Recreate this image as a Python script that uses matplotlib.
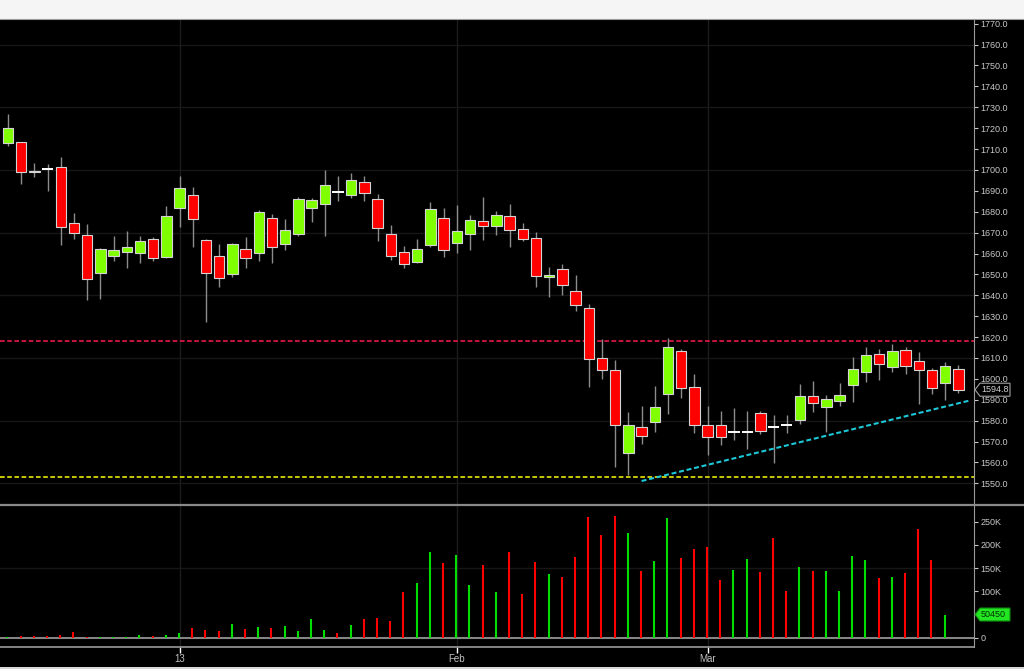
import numpy as np
import matplotlib
matplotlib.use('Agg')
import matplotlib.pyplot as plt
from matplotlib.patches import Rectangle, Polygon
from matplotlib.lines import Line2D
from matplotlib.transforms import IdentityTransform

W, H = 1024, 669

# daily OHLC
opens = [1712.9, 1713.4, 1699.6, 1700.4, 1701.4, 1674.7, 1668.9, 1650.8, 1658.9, 1660.6,
         1660.2, 1667.0, 1658.3, 1681.6, 1688.0, 1666.3, 1658.8, 1650.2, 1662.2, 1660.2,
         1676.8, 1664.7, 1669.5, 1681.6, 1683.7, 1689.3, 1688.1, 1694.4, 1686.2, 1669.2,
         1660.6, 1655.8, 1663.9, 1676.8, 1665.0, 1669.2, 1675.4, 1673.3, 1677.9, 1671.6,
         1667.6, 1648.6, 1652.4, 1642.2, 1633.8, 1609.8, 1604.2, 1564.6, 1576.8, 1579.3,
         1592.7, 1613.5, 1595.9, 1578.0, 1577.8, 1574.4, 1574.5, 1583.8, 1576.9, 1578.0,
         1580.1, 1591.9, 1586.4, 1589.4, 1596.9, 1603.4, 1611.7, 1605.7, 1613.8, 1608.7,
         1604.2, 1598.1, 1604.6]
highs = [1726.8, 1713.6, 1703.5, 1702.8, 1706.0, 1679.2, 1674.0, 1662.6, 1668.4, 1670.8,
         1668.4, 1667.9, 1682.7, 1697.1, 1691.8, 1666.8, 1664.5, 1664.9, 1667.7, 1680.8,
         1678.9, 1676.7, 1686.9, 1686.7, 1700.0, 1697.1, 1698.4, 1697.1, 1688.3, 1673.6,
         1663.6, 1666.9, 1684.8, 1681.9, 1683.1, 1678.6, 1687.0, 1680.2, 1683.7, 1674.4,
         1670.1, 1653.5, 1655.1, 1649.7, 1635.8, 1618.9, 1609.0, 1584.3, 1586.8, 1596.6,
         1619.4, 1614.3, 1602.5, 1586.8, 1584.5, 1585.9, 1584.5, 1584.7, 1582.8, 1582.5,
         1597.7, 1598.8, 1592.1, 1598.1, 1610.3, 1615.2, 1614.1, 1616.7, 1615.1, 1612.8,
         1605.0, 1608.1, 1606.6]
lows = [1711.5, 1693.1, 1696.5, 1689.9, 1664.2, 1666.8, 1637.7, 1638.4, 1656.4, 1652.9,
        1655.3, 1656.4, 1658.0, 1672.8, 1663.3, 1627.3, 1644.1, 1648.6, 1653.1, 1656.4,
        1655.3, 1661.7, 1668.2, 1675.2, 1668.2, 1685.3, 1686.7, 1685.0, 1666.1, 1656.9,
        1653.1, 1655.3, 1663.1, 1658.3, 1660.4, 1661.5, 1666.6, 1668.7, 1663.1, 1665.8,
        1643.8, 1639.3, 1640.1, 1632.5, 1596.2, 1599.9, 1557.6, 1554.0, 1568.9, 1574.5,
        1583.3, 1591.0, 1574.1, 1563.7, 1568.5, 1570.7, 1566.3, 1573.7, 1559.8, 1573.9,
        1578.5, 1584.0, 1574.7, 1586.8, 1589.1, 1598.6, 1599.3, 1603.4, 1602.2, 1588.1,
        1592.9, 1590.0, 1593.4]
closes = [1719.9, 1699.0, 1699.0, 1700.4, 1672.8, 1669.7, 1647.9, 1662.1, 1661.8, 1663.1,
          1665.8, 1658.0, 1678.1, 1691.2, 1676.5, 1650.5, 1648.1, 1664.4, 1657.7, 1680.0,
          1663.0, 1671.4, 1686.2, 1685.5, 1692.9, 1689.3, 1695.0, 1688.8, 1672.1, 1658.7,
          1655.1, 1662.3, 1681.3, 1661.7, 1670.6, 1676.2, 1673.3, 1678.6, 1671.1, 1666.9,
          1649.1, 1649.6, 1645.1, 1635.2, 1609.5, 1604.1, 1577.8, 1578.0, 1572.6, 1586.4,
          1615.4, 1595.6, 1577.9, 1572.0, 1572.3, 1574.4, 1574.5, 1574.9, 1576.9, 1578.0,
          1591.6, 1588.3, 1590.5, 1592.4, 1604.6, 1611.3, 1607.1, 1613.5, 1606.0, 1604.2,
          1595.6, 1606.1, 1594.8]

# volume in thousands, 1 = green bar, 0 = red bar
volume_k = [2, 4, 5, 4, 6.5, 12, 2, 2, 2, 2,
            7, 4, 6, 11, 21, 17, 14, 30, 19, 24,
            22, 26, 16, 41, 17, 11, 29, 41, 42, 37,
            99, 118, 185, 161, 179, 114, 156, 99, 185, 94.5,
            163, 138, 131, 175, 260, 221, 262, 226, 144, 165,
            257, 173, 191, 195, 124, 147, 170, 142, 215, 102,
            152, 144, 145, 100, 177, 167, 129, 131, 140, 235,
            167, 50.45]
volume_up = [1, 0, 0, 0, 0, 0, 0, 1, 1, 1,
             1, 0, 1, 1, 0, 0, 0, 1, 0, 1,
             0, 1, 1, 1, 1, 0, 1, 0, 0, 0,
             0, 1, 1, 0, 1, 1, 0, 1, 0, 0,
             0, 1, 0, 0, 0, 0, 0, 1, 0, 1,
             1, 0, 0, 0, 0, 1, 1, 0, 0, 0,
             1, 0, 1, 1, 1, 1, 0, 1, 0, 0,
             0, 1]

date_ticks = [13, 34, 53]
date_labels = ['13', 'Feb', 'Mar']
price_ticks = list(range(1550, 1771, 10))
grid_prices = [1550, 1580, 1610, 1640, 1670, 1700, 1730, 1760]
vol_ticks = [0, 100, 150, 200, 250]
vol_grid = [150]

resistance = 1618.0
support = 1553.2
trend_x = [48.0, 72.9]
trend_y = [1551.1, 1589.7]
last_price = 1594.8
last_volume = 50450


def px(x0, y0, x1, y1):
    # pixel box, origin top-left -> figure fraction rect
    return [x0 / W, 1 - y1 / H, (x1 - x0) / W, (y1 - y0) / H]


fig = plt.figure(figsize=(W / 100, H / 100), dpi=100, facecolor='black')
plt.rcParams['font.family'] = ['Liberation Sans', 'DejaVu Sans']

ax = fig.add_axes(px(0, 19, 974, 504))
axv = fig.add_axes(px(0, 506, 974, 646.7), sharex=ax)

for a in (ax, axv):
    a.set_facecolor('black')
    for s in ('left', 'top', 'bottom'):
        a.spines[s].set_visible(False)
    a.spines['right'].set_color('#9a9a9a')
    a.yaxis.tick_right()
    a.tick_params(axis='y', colors='#c8c8c8', length=3, width=0.8, pad=1.5, labelsize=6.5)
    for xt in date_ticks:
        a.axvline(xt, color='#1c1c1c', lw=1, zorder=0)

ax.set_xlim(-0.606, 73.18)
ax.set_ylim(1540.1, 1772.25)
axv.set_ylim(-18.7, 283.7)

# price grid
for g in grid_prices:
    ax.axhline(g, color='#171717', lw=1, zorder=0)

o, h, l, c = map(np.array, (opens, highs, lows, closes))
x = np.arange(len(o))
up, dn, flat = c > o, c < o, c == o

ax.vlines(x, l, h, color='#8c8c8c', lw=1.0, zorder=2)
ax.bar(x[up], c[up] - o[up], bottom=o[up], width=0.78, color='#80ff00',
       edgecolor='#d4d4d4', lw=0.8, zorder=3)
ax.bar(x[dn], o[dn] - c[dn], bottom=c[dn], width=0.78, color='#ff0000',
       edgecolor='#d4d4d4', lw=0.8, zorder=3)
ax.hlines(o[flat], x[flat] - 0.42, x[flat] + 0.42, color='white', lw=1.4, zorder=3)

ax.axhline(resistance, color='#c8143c', lw=1.4, ls=(0, (2.4, 1.3)), zorder=1)
ax.axhline(support, color='#c8c800', lw=1.4, ls=(0, (2.4, 1.3)), zorder=1)
ax.plot(trend_x, trend_y, color='#1ec8d8', lw=1.5, ls=(0, (2.4, 1.3)), zorder=4)

ax.set_yticks(price_ticks)
ax.set_yticklabels(['%.1f' % p for p in price_ticks])
ax.tick_params(axis='x', bottom=False, labelbottom=False)

# volume
xv = np.arange(len(volume_k))
vcol = ['#00dd00' if u else '#ff0000' for u in volume_up]
axv.vlines(xv - 0.05, 0, volume_k, colors=vcol, lw=1.5, zorder=3)
for g in vol_grid:
    axv.axhline(g, color='#171717', lw=1, zorder=0)
axv.axhline(0, color='#a0a0a0', lw=1.2, zorder=2)
axv.spines['bottom'].set_visible(True)
axv.spines['bottom'].set_color('#9a9a9a')
axv.spines['bottom'].set_linewidth(1.2)
axv.set_yticks(vol_ticks)
axv.set_yticklabels(['0' if v == 0 else '%dK' % v for v in vol_ticks])
axv.set_xticks(date_ticks)
axv.set_xticklabels(date_labels)
axv.tick_params(axis='x', colors='white', labelcolor='#c0c0c0', length=4,
                width=1, labelsize=7, pad=1)

# panel separator and window strips
fig.add_artist(Line2D([0, 1], [1 - 505 / H] * 2, transform=fig.transFigure,
                      color='#8a8a8a', lw=1.6))
fig.add_artist(Rectangle((0, 1 - 19 / H), 1, 19 / H, transform=fig.transFigure,
                         fc='#f5f5f5', ec='none'))
fig.add_artist(Line2D([0, 1], [1 - 19 / H] * 2, transform=fig.transFigure,
                      color='#9a9a9a', lw=0.8))
fig.add_artist(Rectangle((0, 0), 1, 2.5 / H, transform=fig.transFigure,
                         fc='#d8d8d8', ec='none'))

# last value flags on the right axis
fig.canvas.draw()


def flag(axis, yval, text, fc, ec, tc):
    xr, yp = axis.transData.transform((axis.get_xlim()[1], yval))
    x0, x1, hh = xr + 1, xr + 36, 6.5
    pts = [(x0, yp), (x0 + 5, yp + hh), (x1, yp + hh), (x1, yp - hh), (x0 + 5, yp - hh)]
    fig.add_artist(Polygon(pts, closed=True, transform=IdentityTransform(),
                           fc=fc, ec=ec, lw=0.8, zorder=10))
    fig.text((x0 + 6) / W, yp / H, text, ha='left', va='center', fontsize=6.5,
             color=tc, zorder=11)


flag(ax, last_price, '%.1f' % last_price, 'black', '#a0a0a0', '#d0d0d0')
flag(axv, last_volume / 1000.0, str(last_volume), '#22e622', '#118811', '#003300')

fig.savefig('out.png', dpi=100, facecolor='black')
